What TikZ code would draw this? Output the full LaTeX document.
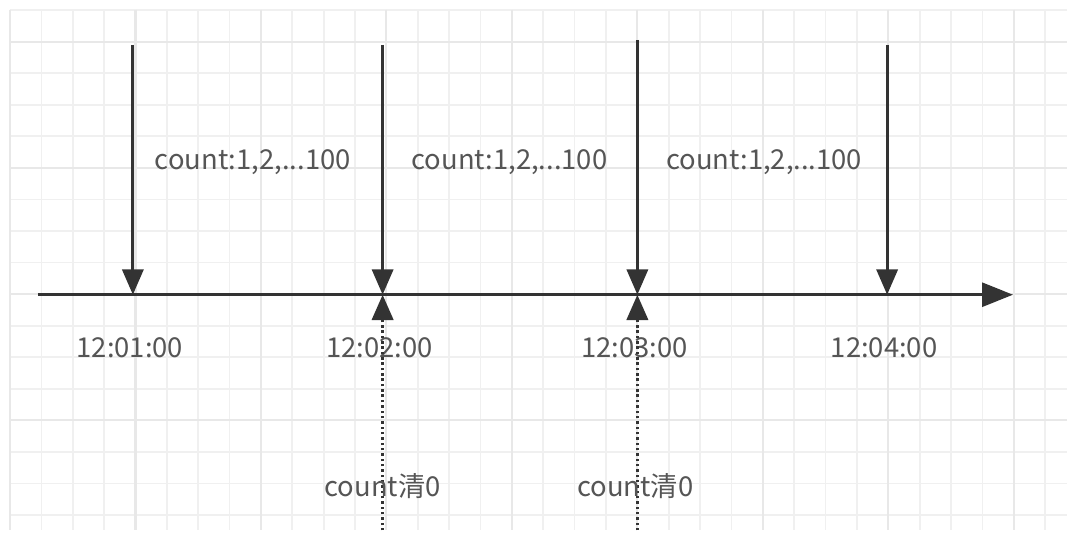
\documentclass[tikz,border=0pt]{standalone}
\usepackage{fontspec}
\newfontfamily\cjk{Noto Sans CJK SC}
\usetikzlibrary{arrows.meta}

\definecolor{ink}{HTML}{333333}
\definecolor{txt}{HTML}{555555}
\tikzset{
  minorline/.style={draw=black!6, line width=1.2pt},
  majorline/.style={draw=black!9, line width=1.5pt},
  timeaxis/.style={draw=ink, line width=2.2pt, -{Triangle[length=22pt,width=17pt]}},
  hit/.style={draw=ink, line width=2.2pt, -{Triangle[length=18pt,width=15pt]}},
  reset/.style={draw=ink, line width=2.6pt, dash pattern=on 1.8pt off 2pt, -{Triangle[length=18pt,width=15pt]}},
  lbl/.style={font=\cjk\fontsize{19.5}{22}\selectfont, text=txt, inner sep=1pt},
}

\begin{document}
\begin{tikzpicture}[x=0.025cm,y=-0.025cm]
\fill[white] (0,0) rectangle (1068,531);
% background grid
\foreach \i in {0,...,33} \draw[minorline] ({10+31.4*\i},10) -- ({10+31.4*\i},531);
\foreach \j in {0,...,16} \draw[minorline] (10,{10+31.6*\j}) -- (1068,{10+31.6*\j});
\foreach \i in {0,4,...,32} \draw[majorline] ({10+31.4*\i},10) -- ({10+31.4*\i},531);
\foreach \j in {1,5,9,13} \draw[majorline] (10,{10+31.6*\j}) -- (1068,{10+31.6*\j});

% time axis
\coordinate (start) at (38,295);
\coordinate (end) at (1014,295);
\draw[timeaxis] (start) -- (end);

% minute marks
\foreach \n/\x/\top/\t in {1/133/45/12:01:00, 2/383/45/12:02:00, 3/638/40/12:03:00, 4/888/45/12:04:00}{
  \coordinate (top\n) at (\x,\top);
  \coordinate (m\n) at (\x,295);
  \draw[hit] (top\n) -- (m\n);
  \node[lbl] (t\n) at (\x-3,348) {\t};
}

% counting within each minute
\node[lbl] (c1) at (253,162) {count:1,2,...100};
\node[lbl] (c2) at (510,162) {count:1,2,...100};
\node[lbl] (c3) at (765,162) {count:1,2,...100};

% counter cleared at minute boundaries
\coordinate (b2) at (383,531);
\coordinate (b3) at (638,531);
\draw[reset] (b2) -- (m2);
\draw[reset] (b3) -- (m3);
\node[lbl] (r2) at (383,487) {count清0};
\node[lbl] (r3) at (636,487) {count清0};
\end{tikzpicture}
\end{document}
